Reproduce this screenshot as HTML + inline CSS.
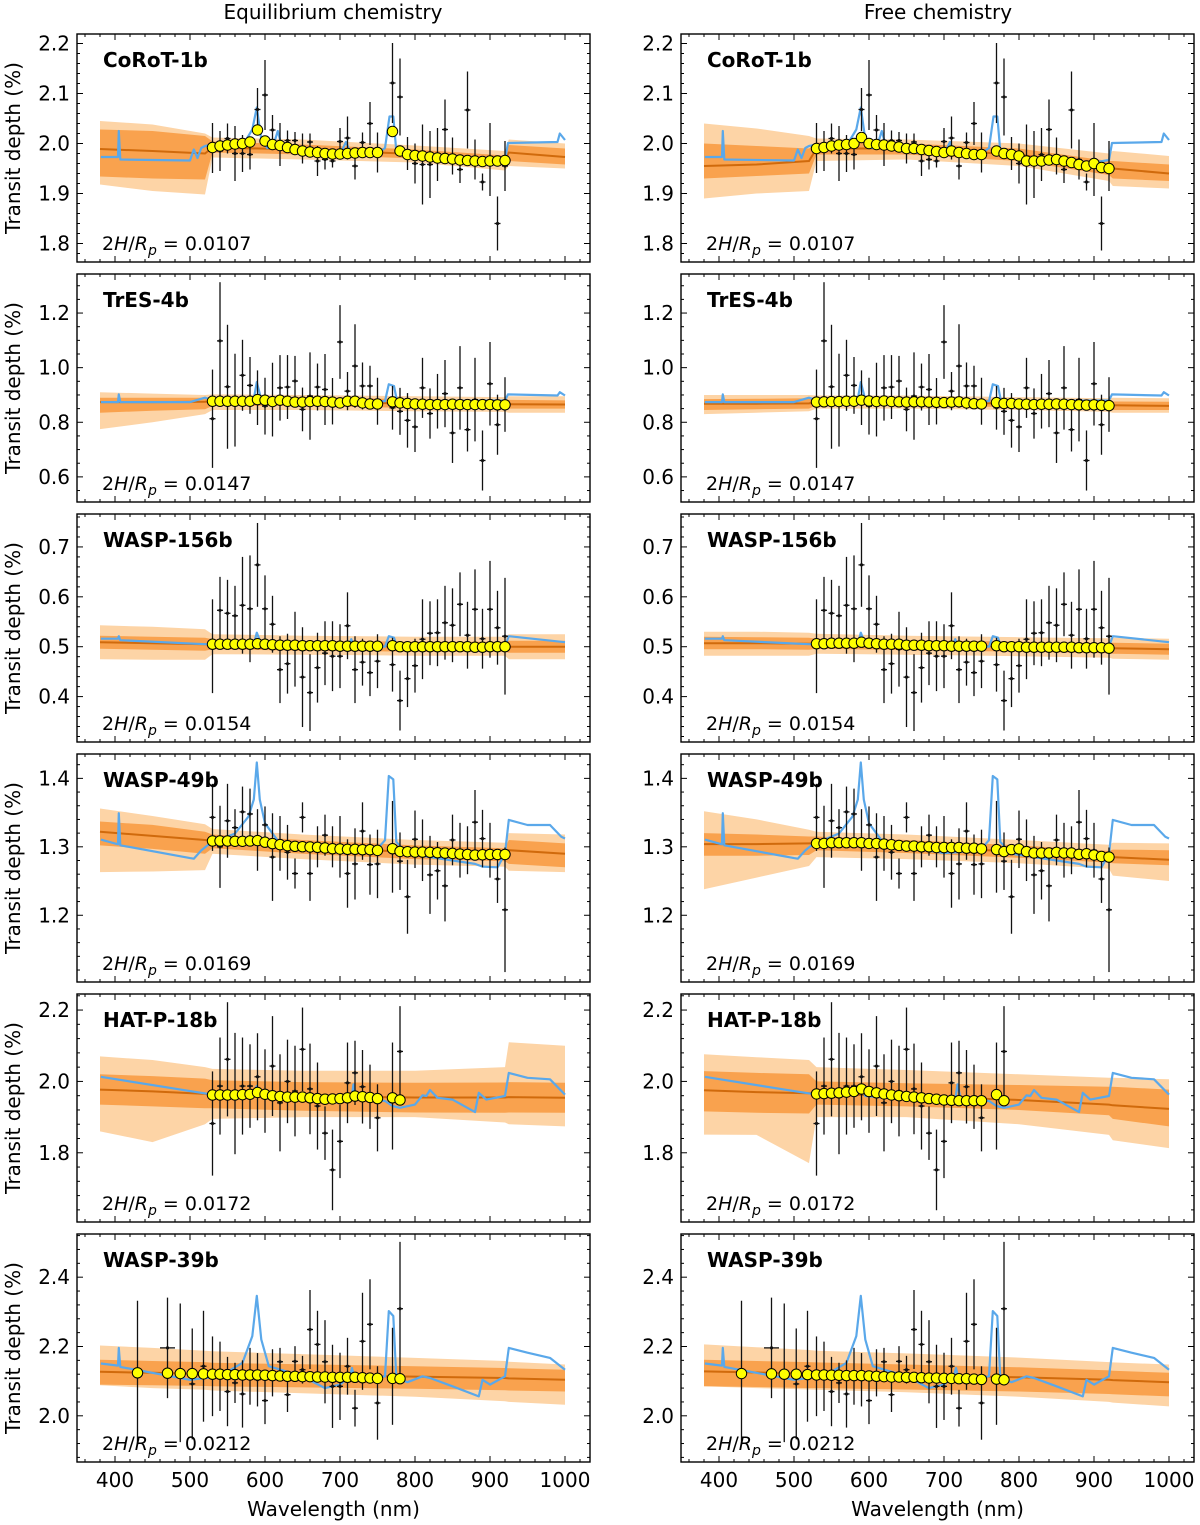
<!DOCTYPE html>
<html><head><meta charset="utf-8"><title>Transmission spectra</title>
<style>
html,body{margin:0;padding:0;background:#fff;}
svg{display:block;font-family:"DejaVu Sans","Liberation Sans",sans-serif;}
</style></head>
<body>
<svg id="fig" width="1200" height="1525" viewBox="0 0 1200 1525" xmlns="http://www.w3.org/2000/svg">
<text x="333" y="19" font-size="20" text-anchor="middle">Equilibrium chemistry</text>
<text x="938" y="19" font-size="20" text-anchor="middle">Free chemistry</text>
</svg>
<script>
// ---------- data ----------
const wlA=[530,540,550,560,570,580,590,600,610,620,630,640,650,660,670,680,690,700,710,720,730,740,750,770,780,790,800,810,820,830,840,850,860,870,880,890,900,910,920];
const wlB=[530,540,550,560,570,580,590,600,610,620,630,640,650,660,670,680,690,700,710,720,730,740,750,770,780];
const wlC=[430,470,487,503,518,530,540,550,560,570,580,590,600,610,620,630,640,650,660,670,680,690,700,710,720,730,740,750,770,780];
const xerrC=[4,10,4,4,4,4,4,4,4,4,4,4,4,4,4,4,4,4,4,4,4,4,4,4,4,4,4,4,4,4];

const obs1=[1.991,1.985,2.01,1.98,1.98,1.978,2.068,2.097,2.027,1.998,2.006,2.006,1.99,2.003,1.965,1.968,1.965,2.004,2.011,1.955,2.002,2.04,1.982,2.121,2.093,1.98,1.96,1.958,1.958,1.978,2.028,1.975,1.948,2.067,1.968,1.923,1.968,1.84,1.955];
const err1=[.05,.04,.03,.055,.037,.03,.043,.07,.03,.043,.02,.017,.03,.017,.03,.02,.013,.027,.043,.027,.02,.043,.04,.08,.077,.033,.04,.08,.067,.053,.06,.037,.027,.077,.04,.017,.073,.054,.05];
const obs2=[0.813,1.098,0.93,0.881,0.972,0.935,0.89,0.859,0.883,0.926,0.929,0.951,0.847,0.896,0.929,0.92,0.877,1.094,0.914,1.006,0.933,0.933,0.877,0.853,0.84,0.807,0.783,0.926,0.832,0.877,0.905,0.761,0.926,0.773,0.883,0.66,0.941,0.791,0.865];
const err2=[.18,.215,.227,.17,.13,.104,.1,.104,.135,.12,.117,.092,.08,.16,.086,.13,.085,.135,.07,.153,.086,.074,.086,.08,.086,.1,.092,.11,.092,.1,.123,.11,.153,.08,.153,.11,.153,.11,.1];
const obs3=[0.501,0.573,0.567,0.562,0.583,0.576,0.664,0.576,0.545,0.454,0.466,0.495,0.439,0.408,0.458,0.487,0.481,0.481,0.542,0.454,0.469,0.448,0.471,0.464,0.392,0.436,0.462,0.515,0.527,0.528,0.548,0.543,0.585,0.523,0.575,0.516,0.575,0.538,0.521];
const err3=[.094,.067,.067,.06,.097,.107,.084,.067,.057,.067,.06,.075,.1,.077,.07,.064,.07,.064,.067,.067,.047,.047,.054,.054,.06,.057,.054,.08,.064,.067,.074,.074,.064,.067,.08,.06,.097,.074,.117];
const obs4=[1.343,1.3,1.338,1.328,1.351,1.348,1.31,1.332,1.285,1.305,1.292,1.261,1.343,1.261,1.3,1.317,1.3,1.3,1.261,1.275,1.323,1.274,1.275,1.3,1.279,1.227,1.311,1.295,1.259,1.265,1.243,1.31,1.295,1.295,1.336,1.312,1.295,1.253,1.208];
const err4=[.049,.06,.054,.027,.037,.037,.045,.027,.064,.04,.04,.022,.022,.04,.03,.03,.03,.045,.05,.052,.042,.044,.05,.067,.042,.054,.042,.045,.057,.042,.052,.037,.04,.035,.047,.042,.04,.035,.091];
const obs5=[1.882,1.987,2.062,1.966,1.987,1.987,2.013,1.973,2.043,1.94,2.0,1.973,2.09,1.979,1.931,1.855,1.752,1.832,1.996,2.024,1.985,1.957,1.898,1.959,2.084];
const err5=[.146,.136,.16,.17,.136,.117,.122,.117,.14,.136,.117,.127,.117,.127,.122,.075,.113,.103,.113,.09,.103,.09,.094,.15,.127];
const obs6=[2.124,2.196,2.124,2.092,2.143,2.114,2.114,2.07,2.095,2.063,2.114,2.104,2.044,2.124,2.156,2.061,2.157,2.133,2.249,2.206,2.156,2.085,2.085,2.143,2.022,2.215,2.264,2.037,2.114,2.309];
const err6=[.208,.145,.2,.16,.16,.115,.1,.1,.058,.097,.082,.077,.068,.068,.04,.05,.044,.04,.114,.097,.12,.12,.097,.082,.053,.14,.13,.106,.14,.193];

const modL1=[1.992,1.995,1.997,1.999,2.0,2.003,2.027,2.005,1.998,1.996,1.992,1.988,1.985,1.983,1.982,1.98,1.979,1.979,1.98,1.981,1.982,1.982,1.982,2.024,1.985,1.978,1.976,1.975,1.973,1.971,1.97,1.969,1.967,1.966,1.965,1.964,1.965,1.965,1.966];
const modL2=[0.877,0.877,0.877,0.877,0.877,0.877,0.883,0.881,0.876,0.881,0.877,0.874,0.874,0.876,0.877,0.876,0.874,0.871,0.877,0.877,0.871,0.867,0.867,0.875,0.871,0.869,0.867,0.866,0.865,0.865,0.865,0.866,0.865,0.865,0.865,0.865,0.865,0.864,0.864];
const modL3=[0.505,0.505,0.505,0.505,0.505,0.505,0.506,0.505,0.504,0.503,0.503,0.503,0.502,0.502,0.502,0.502,0.502,0.501,0.501,0.501,0.501,0.501,0.501,0.502,0.5,0.5,0.5,0.5,0.5,0.5,0.5,0.5,0.5,0.5,0.499,0.499,0.5,0.5,0.5];
const modL4=[1.3086,1.3086,1.3086,1.3081,1.3081,1.3086,1.3091,1.3067,1.3047,1.3032,1.3017,1.3007,1.3002,1.2998,1.2993,1.2983,1.2973,1.2968,1.2963,1.2963,1.2958,1.2958,1.2948,1.2973,1.2933,1.2928,1.2923,1.2923,1.2919,1.2914,1.2909,1.2904,1.2894,1.2889,1.2879,1.2884,1.2889,1.2889,1.2889];
const modL5=[1.962,1.962,1.962,1.962,1.963,1.964,1.969,1.964,1.96,1.958,1.956,1.956,1.956,1.954,1.952,1.95,1.951,1.952,1.954,1.959,1.957,1.955,1.952,1.954,1.948];
const modL6=[2.124,2.123,2.122,2.122,2.121,2.12,2.12,2.119,2.119,2.118,2.118,2.118,2.117,2.116,2.115,2.114,2.114,2.113,2.113,2.112,2.112,2.111,2.111,2.111,2.111,2.11,2.109,2.108,2.108,2.107];
const modR1=[1.99,1.992,1.995,1.997,1.998,2.0,2.012,2.0,1.998,1.997,1.995,1.993,1.99,1.99,1.988,1.986,1.984,1.982,1.985,1.982,1.98,1.978,1.978,1.985,1.98,1.978,1.975,1.965,1.965,1.965,1.967,1.968,1.965,1.962,1.958,1.955,1.96,1.952,1.95];
const modR2=[0.874,0.875,0.876,0.876,0.877,0.877,0.881,0.878,0.876,0.878,0.876,0.875,0.874,0.875,0.875,0.874,0.873,0.872,0.874,0.875,0.871,0.868,0.867,0.872,0.869,0.869,0.867,0.866,0.865,0.866,0.866,0.867,0.866,0.865,0.864,0.863,0.864,0.862,0.861];
const modR3=[0.506,0.506,0.507,0.507,0.507,0.507,0.509,0.507,0.506,0.505,0.505,0.505,0.503,0.503,0.503,0.502,0.502,0.502,0.501,0.501,0.501,0.501,0.501,0.502,0.5,0.5,0.5,0.499,0.499,0.499,0.499,0.499,0.499,0.499,0.498,0.498,0.498,0.498,0.497];
const modR4=[1.305,1.305,1.306,1.306,1.306,1.306,1.306,1.305,1.305,1.304,1.303,1.302,1.301,1.301,1.3,1.3,1.299,1.299,1.299,1.299,1.298,1.298,1.297,1.296,1.293,1.296,1.297,1.293,1.291,1.291,1.291,1.292,1.291,1.291,1.289,1.29,1.288,1.286,1.285];
const modR5=[1.965,1.966,1.967,1.968,1.97,1.972,1.979,1.972,1.968,1.965,1.962,1.96,1.958,1.956,1.954,1.952,1.95,1.948,1.947,1.946,1.946,1.946,1.946,1.963,1.946];
const modR6=[2.122,2.121,2.12,2.12,2.119,2.118,2.118,2.117,2.117,2.116,2.116,2.116,2.115,2.114,2.113,2.112,2.112,2.111,2.111,2.11,2.109,2.109,2.108,2.108,2.107,2.107,2.106,2.105,2.106,2.104];

// blue reference spectra
const bw1=[381,404,405,407,500,505,510,515,520,530,560,575,583,589,595,603,610,617,623,650,700,708,715,750,760,766,771,775,800,850,900,920,924,990,993,1000];
const bv1=[1.973,1.973,2.025,1.968,1.966,1.988,1.971,1.991,1.995,1.998,1.993,2.008,2.028,2.072,2.008,1.991,1.991,2.025,1.991,1.983,1.978,2.003,1.978,1.98,1.991,2.054,2.054,1.985,1.971,1.967,1.962,1.967,2.001,2.003,2.02,2.007];
const bw2=[381,404,405,407,500,520,530,585,589,595,760,765,772,776,920,924,990,993,1000];
const bv2=[0.874,0.874,0.902,0.874,0.874,0.89,0.881,0.886,0.947,0.883,0.877,0.939,0.933,0.877,0.88,0.902,0.898,0.91,0.898];
const bw3=[381,404,405,407,520,585,589,595,712,715,718,760,765,772,776,920,925,1000];
const bv3=[0.516,0.516,0.521,0.513,0.505,0.505,0.528,0.505,0.505,0.515,0.503,0.5,0.521,0.518,0.5,0.501,0.521,0.509];
const bw4=[381,404,405,407,500,505,515,525,560,578,585,589,593,600,620,700,720,750,760,765,771,775,790,880,890,910,920,925,950,980,995,1000];
const bv4=[1.3106,1.3037,1.3491,1.3022,1.2835,1.2826,1.2948,1.3037,1.3195,1.3442,1.369,1.4232,1.369,1.3343,1.3047,1.2909,1.2923,1.2973,1.3096,1.4035,1.3985,1.3072,1.2899,1.275,1.2711,1.2701,1.2899,1.3393,1.3319,1.3319,1.3146,1.3121];
const bw5=[381,500,530,585,589,595,700,715,718,722,760,770,780,800,810,815,820,830,850,880,885,895,920,925,950,980,1000];
const bv5=[2.013,1.973,1.963,1.968,1.987,1.959,1.94,1.949,1.992,1.954,1.945,1.931,1.926,1.935,1.961,1.959,1.976,1.954,1.949,1.914,1.968,1.949,1.959,2.024,2.01,2.006,1.963];
const bw6=[381,404,405,407,500,540,570,583,589,595,605,650,680,700,713,716,720,760,765,771,775,790,810,820,850,885,890,900,920,925,950,980,1000];
const bv6=[2.151,2.145,2.196,2.141,2.104,2.114,2.153,2.23,2.346,2.22,2.143,2.114,2.08,2.09,2.114,2.138,2.1,2.114,2.302,2.288,2.109,2.097,2.114,2.109,2.085,2.056,2.104,2.09,2.114,2.196,2.182,2.167,2.133];

// retrieval bands (nodes shared)
const bandW=[380,450,520,530,650,800,920,925,1000];
const medL1=[1.989,1.985,1.98,1.992,1.988,1.979,1.966,1.982,1.973], inLoL1=[1.934,1.93,1.928,1.982,1.978,1.97,1.956,1.965,1.958], inHiL1=[2.028,2.025,2.015,2.004,1.998,1.988,1.976,1.997,1.99], outLoL1=[1.918,1.905,1.898,1.972,1.968,1.962,1.946,1.955,1.95], outHiL1=[2.045,2.038,2.02,2.012,2.008,1.996,1.985,2.008,2.0];
const medL2=[0.874,0.874,0.875,0.877,0.876,0.868,0.865,0.866,0.865], inLoL2=[0.835,0.842,0.848,0.86,0.86,0.852,0.85,0.85,0.85], inHiL2=[0.89,0.89,0.89,0.893,0.892,0.884,0.88,0.882,0.88], outLoL2=[0.775,0.8,0.83,0.845,0.845,0.84,0.838,0.835,0.835], outHiL2=[0.91,0.905,0.9,0.902,0.9,0.895,0.892,0.895,0.895];
const medL3=[0.509,0.507,0.505,0.505,0.502,0.5,0.5,0.5,0.5], inLoL3=[0.496,0.494,0.492,0.495,0.492,0.49,0.49,0.488,0.488], inHiL3=[0.522,0.52,0.518,0.515,0.512,0.51,0.51,0.512,0.512], outLoL3=[0.475,0.474,0.474,0.485,0.484,0.482,0.482,0.475,0.475], outHiL3=[0.543,0.54,0.535,0.525,0.522,0.52,0.52,0.525,0.525];
const medL4=[1.322,1.316,1.31,1.309,1.3,1.292,1.289,1.295,1.29], inLoL4=[1.302,1.297,1.29,1.298,1.29,1.282,1.279,1.275,1.27], inHiL4=[1.337,1.332,1.322,1.318,1.31,1.302,1.298,1.31,1.305], outLoL4=[1.263,1.264,1.266,1.29,1.282,1.274,1.271,1.265,1.263], outHiL4=[1.356,1.345,1.333,1.326,1.318,1.31,1.306,1.32,1.318];
const medL5=[1.977,1.972,1.965,1.962,1.958,1.955,1.955,1.956,1.954], inLoL5=[1.935,1.93,1.925,1.925,1.918,1.913,1.912,1.913,1.912], inHiL5=[2.02,2.015,2.008,2.003,1.998,1.996,1.997,1.998,1.996], outLoL5=[1.86,1.83,1.88,1.895,1.9,1.9,1.885,1.88,1.874], outHiL5=[2.07,2.06,2.04,2.035,2.03,2.03,2.04,2.11,2.1];
const medL6=[2.127,2.124,2.121,2.12,2.117,2.113,2.109,2.108,2.104], inLoL6=[2.09,2.088,2.086,2.085,2.082,2.078,2.074,2.073,2.07], inHiL6=[2.162,2.158,2.155,2.153,2.149,2.143,2.138,2.137,2.133], outLoL6=[2.088,2.08,2.075,2.073,2.065,2.055,2.042,2.04,2.032], outHiL6=[2.203,2.196,2.188,2.186,2.178,2.167,2.158,2.156,2.148];
const medR1=[1.955,1.958,1.965,1.99,1.99,1.978,1.95,1.95,1.94], inLoR1=[1.93,1.935,1.94,1.978,1.978,1.965,1.937,1.93,1.925], inHiR1=[2.0,1.995,1.99,2.002,2.0,1.99,1.965,1.965,1.958], outLoR1=[1.89,1.9,1.905,1.965,1.968,1.955,1.925,1.915,1.91], outHiR1=[2.04,2.03,2.015,2.01,2.008,2.0,1.98,1.985,1.975];
const medR2=[0.868,0.868,0.869,0.874,0.874,0.868,0.862,0.862,0.86], inLoR2=[0.845,0.848,0.85,0.862,0.862,0.855,0.848,0.845,0.845], inHiR2=[0.885,0.886,0.888,0.888,0.888,0.882,0.876,0.876,0.875], outLoR2=[0.83,0.835,0.84,0.85,0.85,0.845,0.838,0.835,0.835], outHiR2=[0.9,0.9,0.9,0.898,0.898,0.892,0.888,0.89,0.888];
const medR3=[0.507,0.507,0.506,0.506,0.503,0.5,0.497,0.497,0.495], inLoR3=[0.495,0.495,0.494,0.496,0.493,0.49,0.487,0.486,0.484], inHiR3=[0.52,0.519,0.518,0.516,0.513,0.51,0.507,0.508,0.506], outLoR3=[0.482,0.482,0.482,0.486,0.484,0.481,0.478,0.476,0.474], outHiR3=[0.53,0.53,0.528,0.526,0.522,0.519,0.517,0.518,0.516];
const medR4=[1.304,1.304,1.305,1.305,1.3,1.293,1.285,1.285,1.281], inLoR4=[1.287,1.287,1.288,1.295,1.291,1.284,1.277,1.276,1.273], inHiR4=[1.32,1.318,1.315,1.315,1.31,1.302,1.294,1.296,1.295], outLoR4=[1.238,1.255,1.272,1.285,1.282,1.276,1.268,1.258,1.25], outHiR4=[1.352,1.34,1.325,1.322,1.318,1.31,1.303,1.306,1.305];
const medR5=[1.975,1.97,1.967,1.966,1.958,1.948,1.935,1.933,1.923], inLoR5=[1.916,1.912,1.91,1.935,1.93,1.92,1.905,1.895,1.874], inHiR5=[2.029,2.024,2.02,2.0,1.995,1.99,1.985,1.985,1.977], outLoR5=[1.851,1.85,1.771,1.9,1.9,1.88,1.85,1.835,1.813], outHiR5=[2.076,2.068,2.06,2.04,2.032,2.02,2.01,2.01,2.006];
const medR6=[2.128,2.125,2.122,2.121,2.117,2.111,2.104,2.103,2.097], inLoR6=[2.085,2.083,2.08,2.08,2.076,2.07,2.063,2.062,2.056], inHiR6=[2.162,2.158,2.155,2.154,2.148,2.14,2.131,2.13,2.124], outLoR6=[2.085,2.08,2.076,2.075,2.068,2.055,2.04,2.038,2.027], outHiR6=[2.206,2.198,2.19,2.188,2.18,2.168,2.155,2.154,2.148];

const names=["CoRoT-1b","TrES-4b","WASP-156b","WASP-49b","HAT-P-18b","WASP-39b"];
const scaleH=["0.0107","0.0147","0.0154","0.0169","0.0172","0.0212"];
const yDomains=[[1.763,2.219],[0.508,1.343],[0.309,0.766],[1.1025,1.4356],[1.606,2.245],[1.8667,2.5246]];
const yMajor=[0.1,0.2,0.1,0.1,0.2,0.2];
const yMinorDiv=[5,4,5,5,5,5];
const xTickLabels=[400,500,600,700,800,900,1000];

const obsW=[wlA,wlA,wlA,wlA,wlB,wlC];
const obsV=[obs1,obs2,obs3,obs4,obs5,obs6];
const obsE=[err1,err2,err3,err4,err5,err6];
const modV=[[modL1,modL2,modL3,modL4,modL5,modL6],[modR1,modR2,modR3,modR4,modR5,modR6]];
const blueW=[bw1,bw2,bw3,bw4,bw5,bw6];
const blueV=[bv1,bv2,bv3,bv4,bv5,bv6];
const bands=[
 [[medL1,inLoL1,inHiL1,outLoL1,outHiL1],[medL2,inLoL2,inHiL2,outLoL2,outHiL2],[medL3,inLoL3,inHiL3,outLoL3,outHiL3],[medL4,inLoL4,inHiL4,outLoL4,outHiL4],[medL5,inLoL5,inHiL5,outLoL5,outHiL5],[medL6,inLoL6,inHiL6,outLoL6,outHiL6]],
 [[medR1,inLoR1,inHiR1,outLoR1,outHiR1],[medR2,inLoR2,inHiR2,outLoR2,outHiR2],[medR3,inLoR3,inHiR3,outLoR3,outHiR3],[medR4,inLoR4,inHiR4,outLoR4,outHiR4],[medR5,inLoR5,inHiR5,outLoR5,outHiR5],[medR6,inLoR6,inHiR6,outLoR6,outHiR6]]
];

// ---------- drawing ----------
const NS="http://www.w3.org/2000/svg";
const svg=document.getElementById("fig");
function mk(tag,attrs,parent){const e=document.createElementNS(NS,tag);for(const k in attrs)e.setAttribute(k,attrs[k]);(parent||svg).appendChild(e);return e;}

const PW=513,PH=228;
for(let col=0;col<2;col++){
 for(let row=0;row<6;row++){
  const L=col?681:77, T=34+row*240;
  const [y0,y1]=yDomains[row];
  const xs=l=>L+38+(l-400)*0.75;
  const ys=v=>T+PH-(v-y0)/(y1-y0)*PH;
  const g=mk("g",{});
  
  
  const cid="clip"+col+"_"+row;
  const cp=mk("clipPath",{id:cid},g);
  mk("rect",{x:L,y:T,width:PW,height:PH},cp);
  const pg=mk("g",{"clip-path":"url(#"+cid+")"},g);
  const [med,inLo,inHi,outLo,outHi]=bands[col][row];
  const poly=(lo,hi)=>{let p=[];for(let i=0;i<bandW.length;i++)p.push(xs(bandW[i]).toFixed(1)+","+ys(hi[i]).toFixed(1));for(let i=bandW.length-1;i>=0;i--)p.push(xs(bandW[i]).toFixed(1)+","+ys(lo[i]).toFixed(1));return p.join(" ");};
  const ob=mk("polygon",{points:poly(outLo,outHi),fill:"#fdd4a6"},pg);
  
  
  const ib=mk("polygon",{points:poly(inLo,inHi),fill:"#f9a24e"},pg);
  
  
  const ml=mk("polyline",{points:bandW.map((w,i)=>xs(w).toFixed(1)+","+ys(med[i]).toFixed(1)).join(" "),fill:"none",stroke:"#d06a0c","stroke-width":2},pg);
  
  
  const bl=mk("polyline",{points:blueW[row].map((w,i)=>xs(w).toFixed(1)+","+ys(blueV[row][i]).toFixed(1)).join(" "),fill:"none",stroke:"#5aa8ea","stroke-width":2.2,"stroke-linejoin":"round"},pg);
  
  
  const W=obsW[row],V=obsV[row],E=obsE[row];
  for(let i=0;i<W.length;i++){
   const x=xs(W[i]),y=ys(V[i]);
   const xe=(row===5?xerrC[i]:4)*0.75;
   const eg=mk("g",{stroke:"#111","stroke-width":1.3},pg);
   
   
   mk("line",{x1:x,x2:x,y1:ys(V[i]-E[i]),y2:ys(V[i]+E[i])},eg);
   mk("line",{x1:x-xe,x2:x+xe,y1:y,y2:y},eg);
   mk("circle",{cx:x,cy:y,r:1.6,fill:"#111",stroke:"none"},eg);
  }
  const M=modV[col][row];
  for(let i=0;i<W.length;i++){
   const c=mk("circle",{cx:xs(W[i]),cy:ys(M[i]),r:5.2,fill:"#ffff00",stroke:"#000","stroke-width":1},pg);
   
   
  }
  const fr=mk("rect",{x:L,y:T,width:PW,height:PH,fill:"none",stroke:"#000","stroke-width":1.4},g);
  
  
  for(let l=360;l<=1030;l+=20){
   const x=xs(l); if(x<L+1||x>L+PW-1)continue;
   const len=(l%100===0)?6:3;
   mk("line",{x1:x,x2:x,y1:T+PH,y2:T+PH-len,stroke:"#000","stroke-width":1},g);
   mk("line",{x1:x,x2:x,y1:T,y2:T+len,stroke:"#000","stroke-width":1},g);
  }
  if(row===5){
   for(const t of xTickLabels){
    const tx=mk("text",{x:xs(t),y:1487,"font-size":20,"text-anchor":"middle"},svg);
    tx.textContent=t;
    
    
   }
  }
  const step=yMajor[row]/yMinorDiv[row];
  const kmin=Math.ceil(y0/step-1e-6),kmax=Math.floor(y1/step+1e-6);
  for(let k=kmin;k<=kmax;k++){
   const v=k*step,y=ys(v);
   const isMaj=(k%yMinorDiv[row]===0);
   const len=isMaj?6:3;
   mk("line",{x1:L,x2:L+len,y1:y,y2:y,stroke:"#000","stroke-width":1},g);
   mk("line",{x1:L+PW,x2:L+PW-len,y1:y,y2:y,stroke:"#000","stroke-width":1},g);
   if(isMaj){
    const tx=mk("text",{x:L-7,y:y+7,"font-size":20,"text-anchor":"end"},g);
    tx.textContent=v.toFixed(1);
    
    
   }
  }
  const nm=mk("text",{x:L+26,y:T+33,"font-size":20,"font-weight":"bold"},g);
  nm.textContent=names[row];
  
  
  const sh=mk("text",{x:L+25,y:T+216,"font-size":19},g);
  sh.innerHTML='2<tspan font-style="italic">H</tspan>/<tspan font-style="italic">R</tspan><tspan font-style="italic" font-size="14" dy="5">p</tspan><tspan dy="-5"> = '+scaleH[row]+'</tspan>';
  
  
  if(col===0){
   const yl=mk("text",{x:0,y:0,"font-size":20,"text-anchor":"middle",transform:"translate("+(L-57)+","+(T+PH/2)+") rotate(-90)"},g);
   yl.textContent="Transit depth (%)";
   
   
  }
 }
 const xl=mk("text",{x:(col?681:77)+PW/2,y:1516,"font-size":20,"text-anchor":"middle"},svg);
 xl.textContent="Wavelength (nm)";
 
 
}
</script>
</body></html>
